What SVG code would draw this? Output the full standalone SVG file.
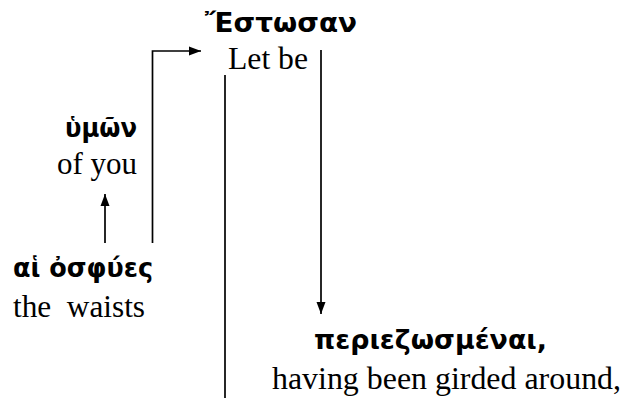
<svg xmlns="http://www.w3.org/2000/svg" width="623" height="398" viewBox="0 0 623 398">
  <style>
    .gk { font-family: "DejaVu Sans", "Noto Sans", sans-serif; font-weight: bold; font-size: 26px; fill: #000; }
    .en { font-family: "Liberation Serif", "Times New Roman", serif; font-size: 32px; fill: #000; }
    .ln { fill: none; stroke: #000; stroke-width: 1.7; }
  </style>
  <defs>
    <marker id="head" viewBox="0 0 12 10" refX="12" refY="5" markerWidth="12" markerHeight="10" markerUnits="userSpaceOnUse" orient="auto">
      <path d="M0,0.5 L12,5 L0,9.5 Z" fill="#000"/>
    </marker>
  </defs>
  <rect width="623" height="398" fill="#fff"/>

  <g id="connectors">
    <!-- waists to "Let be" -->
    <path class="ln" d="M152.5,243 V51 H201" marker-end="url(#head)"/>
    <!-- waists to "of you" -->
    <path class="ln" d="M105,243 V194" marker-end="url(#head)"/>
    <!-- long vertical baseline -->
    <path class="ln" d="M225,75 V398"/>
    <!-- "Let be" down to participle -->
    <path class="ln" d="M321,50 V314" marker-end="url(#head)"/>
  </g>

  <g id="estosan">
    <text class="gk" x="205" y="32" textLength="152" lengthAdjust="spacingAndGlyphs">Ἔστωσαν</text>
    <text class="en" x="228" y="69" textLength="80" lengthAdjust="spacingAndGlyphs">Let be</text>
  </g>

  <g id="hymon">
    <text class="gk" x="65" y="137" textLength="72" lengthAdjust="spacingAndGlyphs">ὑμῶν</text>
    <text class="en" x="57" y="174" textLength="80" lengthAdjust="spacingAndGlyphs">of you</text>
  </g>

  <g id="osphyes">
    <text class="gk" x="13" y="277" textLength="140" lengthAdjust="spacingAndGlyphs">αἱ ὀσφύες</text>
    <text class="en" x="13" y="317" textLength="132" lengthAdjust="spacingAndGlyphs" xml:space="preserve">the  waists</text>
  </g>

  <g id="periezosmenai">
    <text class="gk" x="314" y="349" textLength="233" lengthAdjust="spacingAndGlyphs">περιεζωσμέναι,</text>
    <text class="en" x="272" y="389" textLength="349" lengthAdjust="spacingAndGlyphs">having been girded around,</text>
  </g>
</svg>
